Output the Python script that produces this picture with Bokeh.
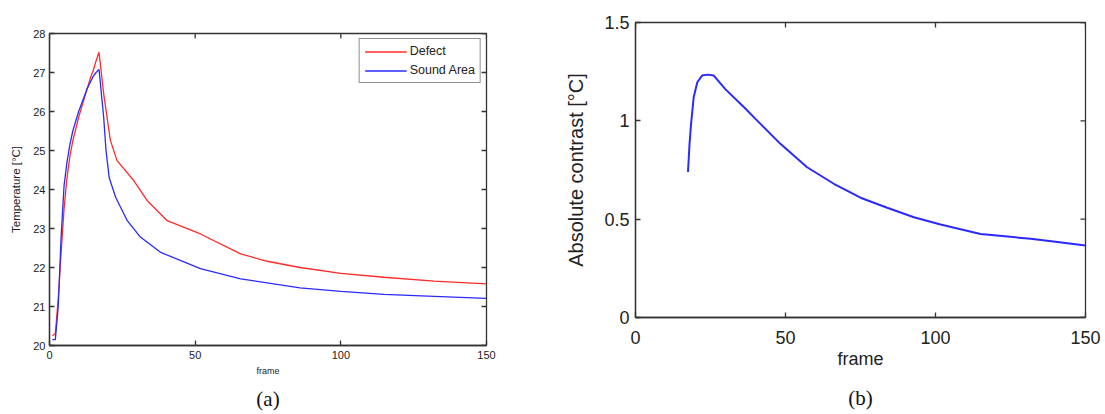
from bokeh.plotting import figure
from bokeh.layouts import row, column
from bokeh.models import Range1d, FixedTicker, Legend, LegendItem, LinearAxis
from bokeh.embed import file_html
from bokeh.resources import INLINE
import math

# ---- data (a) ----
defect_frames = [1, 2, 3, 4, 5, 6, 7, 8, 9, 10, 11, 12, 13, 14, 15, 16, 17,
                 18.6, 20.9, 23.2, 28.9, 33.5, 40.4, 51.8, 65.6, 74.7, 86, 100, 114.8, 132, 150]
defect_temp = [20.25, 20.3, 21.2, 22.4, 23.5, 24.3, 24.85, 25.25, 25.55, 25.85, 26.1, 26.35,
               26.6, 26.85, 27.05, 27.3, 27.52,
               26.45, 25.26, 24.74, 24.23, 23.72, 23.2, 22.86, 22.35, 22.16, 22.0, 21.85, 21.75, 21.65, 21.58]
sound_frames = [1, 2, 3, 4, 5, 6, 7, 8, 9, 10, 11, 12, 13, 14, 15, 16, 17,
                18.6, 19.4, 20.5, 22.7, 26.7, 31.2, 38.1, 51.8, 65.6, 86, 100, 114.8, 132, 150]
sound_temp = [20.15, 20.15, 21.0, 22.8, 24.1, 24.7, 25.15, 25.5, 25.75, 26.0, 26.2, 26.4,
              26.6, 26.75, 26.9, 27.0, 27.08,
              25.85, 25.0, 24.3, 23.8, 23.2, 22.78, 22.39, 21.97, 21.71, 21.48, 21.39, 21.31, 21.26, 21.21]

# ---- data (b) ----
contrast_frames = [17.5, 18, 18.5, 19.4, 20.6, 22.2, 24, 26.1, 30, 36.1, 40, 48.3, 57.2,
                   66.1, 75, 83.9, 92.8, 101.7, 108, 115, 125, 131.7, 140, 150]
contrast_vals = [0.74, 0.88, 0.98, 1.12, 1.196, 1.23, 1.235, 1.23, 1.16, 1.07, 1.01, 0.883, 0.764,
                 0.68, 0.609, 0.558, 0.51, 0.473, 0.45, 0.425, 0.41, 0.40, 0.385, 0.366]

x_ticks = [0, 50, 100, 150]
y_ticks_a = [20, 21, 22, 23, 24, 25, 26, 27, 28]
y_ticks_b = [0, 0.5, 1, 1.5]

FONT = "Liberation Sans"
AXC = "#333333"
TXT = "#222222"


def style_axis(ax, tick_size, label_size):
    ax.axis_line_color = AXC
    ax.axis_line_width = 1.3
    ax.major_tick_in = 5
    ax.major_tick_out = 0
    ax.minor_tick_in = 0
    ax.minor_tick_out = 0
    ax.major_tick_line_color = AXC
    ax.major_tick_line_width = 1.3
    ax.major_label_text_font = FONT
    ax.major_label_text_font_size = tick_size
    ax.major_label_text_color = TXT
    ax.axis_label_text_font = FONT
    ax.axis_label_text_font_size = label_size
    ax.axis_label_text_font_style = "normal"
    ax.axis_label_text_color = TXT


def make_box(p, xt, yt, tick_size, xlabel_size, ylabel_size):
    for ax in p.xaxis:
        style_axis(ax, tick_size, xlabel_size)
    for ax in p.yaxis:
        style_axis(ax, tick_size, ylabel_size)
    p.xaxis.ticker = FixedTicker(ticks=xt)
    p.yaxis.ticker = FixedTicker(ticks=yt)
    p.xgrid.visible = False
    p.ygrid.visible = False
    p.outline_line_color = AXC
    p.outline_line_width = 1.3
    # inward ticks on the top and right edges of the box (half of each dash is clipped)
    p.scatter(xt, [yt[-1]] * len(xt), marker="dash", size=10, angle=math.pi / 2,
              line_color=AXC, line_width=1.3)
    p.scatter([xt[-1]] * len(yt), yt, marker="dash", size=10,
              line_color=AXC, line_width=1.3)


def add_caption(p, text, standoff):
    cap = LinearAxis(ticker=FixedTicker(ticks=[]))
    cap.axis_line_color = None
    cap.major_tick_in = 0
    cap.major_tick_out = 0
    cap.minor_tick_in = 0
    cap.minor_tick_out = 0
    cap.major_label_standoff = 0
    cap.axis_label = text
    cap.axis_label_standoff = standoff
    cap.axis_label_text_font = "Liberation Serif"
    cap.axis_label_text_font_size = "21px"
    cap.axis_label_text_font_style = "normal"
    cap.axis_label_text_color = "#111111"
    p.add_layout(cap, "below")


# ---- figure (a) ----
pa = figure(width=550, height=414, output_backend="svg", toolbar_location=None,
            x_range=Range1d(x_ticks[0], x_ticks[-1]), y_range=Range1d(y_ticks_a[0], y_ticks_a[-1]),
            min_border_left=49, min_border_right=64, min_border_top=33, min_border_bottom=69,
            background_fill_color="white", border_fill_color="white")
pa.xaxis.axis_label = "frame"
pa.yaxis.axis_label = "Temperature [°C]"
make_box(pa, x_ticks, y_ticks_a, "11px", "9px", "11.5px")
pa.xaxis.major_label_standoff = 5
pa.xaxis.axis_label_standoff = 4
pa.yaxis.major_label_standoff = 4
pa.yaxis.axis_label_standoff = 8

r1 = pa.line(defect_frames, defect_temp, line_color="#ff2a2a", line_width=1.3)
r2 = pa.line(sound_frames, sound_temp, line_color="#2a2aff", line_width=1.3)
leg = Legend(items=[LegendItem(label="Defect", renderers=[r1]),
                    LegendItem(label="Sound Area", renderers=[r2])],
             location="top_right")
leg.label_text_font = FONT
leg.label_text_font_size = "12.5px"
leg.label_text_color = TXT
leg.border_line_color = TXT
leg.border_line_width = 1.2
leg.glyph_width = 42
leg.glyph_height = 13
leg.label_height = 13
leg.spacing = 5
leg.padding = 5
leg.margin = 5
leg.label_standoff = 3
pa.add_layout(leg)
add_caption(pa, "(a)", 8)

# ---- figure (b) ----
pb = figure(width=555, height=414, output_backend="svg", toolbar_location=None,
            x_range=Range1d(x_ticks[0], x_ticks[-1]), y_range=Range1d(y_ticks_b[0], y_ticks_b[-1]),
            min_border_left=85, min_border_right=20, min_border_top=22, min_border_bottom=97,
            background_fill_color="white", border_fill_color="white")
pb.xaxis.axis_label = "frame"
pb.yaxis.axis_label = "Absolute contrast [°C]"
make_box(pb, x_ticks, y_ticks_b, "18px", "18px", "20px")
pb.xaxis.major_label_standoff = 13
pb.xaxis.axis_label_standoff = 2
pb.yaxis.major_label_standoff = 6
pb.yaxis.axis_label_standoff = 14
pb.line(contrast_frames, contrast_vals, line_color="#2a2aff", line_width=2)
add_caption(pb, "(b)", 14)

layout = row(column(pa), column(pb))
open("out.html", "w").write(file_html(layout, INLINE))
